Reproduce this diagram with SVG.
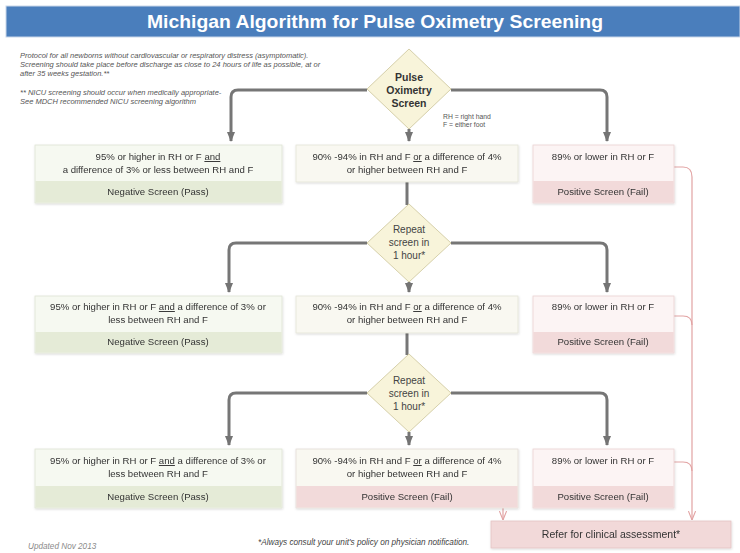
<svg xmlns="http://www.w3.org/2000/svg" width="740" height="553" viewBox="0 0 740 553">
<defs>
<marker id="ag" viewBox="0 0 10 8" refX="9" refY="4" markerWidth="10" markerHeight="8" markerUnits="userSpaceOnUse" orient="auto">
<path d="M0,0 L10,4 L0,8 Z" fill="#747474"/>
</marker>
<marker id="ar" viewBox="0 0 10 8" refX="10" refY="4" markerWidth="9" markerHeight="8" markerUnits="userSpaceOnUse" orient="auto">
<path d="M0,0 L10,4 L0,8" fill="none" stroke="#e2a3a3" stroke-width="1.2"/>
</marker>
<filter id="sh" x="-5%" y="-5%" width="110%" height="120%">
<feDropShadow dx="0.5" dy="1" stdDeviation="0.8" flood-color="#000" flood-opacity="0.15"/>
</filter>
</defs>
<style>
.t{font-family:"Liberation Sans",Arial,sans-serif;font-size:9.6px;fill:#333;text-anchor:middle}
.note{font-family:"Liberation Sans",Arial,sans-serif;font-size:7.5px;font-style:italic;fill:#555}
.dt{font-family:"Liberation Sans",Arial,sans-serif;font-size:10px;fill:#444;text-anchor:middle}
.dtb{font-family:"Liberation Sans",Arial,sans-serif;font-size:10.5px;font-weight:bold;fill:#333;text-anchor:middle}
.gl{fill:none;stroke:#767676;stroke-width:3}
.rl{fill:none;stroke:#e2a3a3;stroke-width:1.2}
.gtop{fill:#f6f9f1;stroke:#dfe4d4;stroke-width:0.8}
.gbot{fill:#e5ebd7}
.ctop{fill:#f9f8f1;stroke:#e4e3d8;stroke-width:0.8}
.ptop{fill:#fcf4f4;stroke:#ead3d3;stroke-width:0.8}
.pbot{fill:#f2dada}
.dia{fill:#f8f4da;stroke:#d6d0aa;stroke-width:1}
.u{text-decoration:underline}
</style>
<rect x="0" y="0" width="740" height="553" fill="#ffffff"/>
<g id="title">
<rect x="6" y="6" width="734" height="31" fill="#4a7ebc" stroke="#c9d7ea" stroke-width="1"/>
<text x="375" y="28" font-family="'Liberation Sans',Arial,sans-serif" font-size="19" font-weight="bold" fill="#ffffff" text-anchor="middle" textLength="456" lengthAdjust="spacingAndGlyphs">Michigan Algorithm for Pulse Oximetry Screening</text>
</g>
<g id="notes">
<text class="note" x="20" y="58">Protocol for all newborns without cardiovascular or respiratory distress (asymptomatic).</text>
<text class="note" x="20" y="67">Screening should take place before discharge as close to 24 hours of life as possible, at or</text>
<text class="note" x="20" y="76">after 35 weeks gestation.**</text>
<text class="note" x="20" y="95">** NICU screening should occur when medically appropriate-</text>
<text class="note" x="20" y="104">See MDCH recommended NICU screening algorithm</text>
<text x="443" y="119" font-family="'Liberation Sans',Arial,sans-serif" font-size="6.8" fill="#555">RH = right hand</text>
<text x="443" y="127" font-family="'Liberation Sans',Arial,sans-serif" font-size="6.8" fill="#555">F = either foot</text>
</g>
<g id="connectors">
<path class="gl" d="M367,90 H238 Q231,90 231,97 V141" marker-end="url(#ag)"/>
<path class="gl" d="M451,90 H600 Q607,90 607,97 V141" marker-end="url(#ag)"/>
<path class="gl" d="M409,129 V141" marker-end="url(#ag)"/>
<path class="gl" d="M407,182 V205"/>
<path class="gl" d="M367,243 H236 Q229,243 229,250 V292" marker-end="url(#ag)"/>
<path class="gl" d="M451,243 H600 Q607,243 607,250 V292" marker-end="url(#ag)"/>
<path class="gl" d="M409,282 V292" marker-end="url(#ag)"/>
<path class="gl" d="M407,333 V355"/>
<path class="gl" d="M367,393 H236 Q229,393 229,400 V445" marker-end="url(#ag)"/>
<path class="gl" d="M451,393 H600 Q607,393 607,400 V445" marker-end="url(#ag)"/>
<path class="gl" d="M409,432 V445" marker-end="url(#ag)"/>
<path class="rl" d="M674,167 H683 Q692,167 692,177 V520" marker-end="url(#ar)"/>
<path class="rl" d="M674,316 H683 Q692,316 692,325"/>
<path class="rl" d="M674,462 H683 Q692,462 692,471"/>
<path class="rl" d="M503,508 V520" marker-end="url(#ar)"/>
</g>
<g id="d1">
<polygon class="dia" points="409,49 451,89 409,129 367,89"/>
<text class="dtb" x="409" y="81">Pulse</text>
<text class="dtb" x="409" y="94">Oximetry</text>
<text class="dtb" x="409" y="107">Screen</text>
</g>
<g id="r1a" filter="url(#sh)">
<rect class="gtop" x="35" y="145" width="247" height="58"/>
<rect class="gbot" x="35.4" y="181" width="246.2" height="21.6"/>
<text class="t" x="158" y="160">95% or higher in RH or F <tspan class="u">and</tspan></text>
<text class="t" x="158" y="173">a difference of 3% or less between RH and F</text>
<text class="t" x="158" y="195">Negative Screen (Pass)</text>
</g>
<g id="r1b" filter="url(#sh)">
<rect class="ctop" x="296" y="145" width="222" height="37"/>
<text class="t" x="407" y="160">90% -94% in RH and F <tspan class="u">or</tspan> a difference of 4%</text>
<text class="t" x="407" y="173">or higher between RH and F</text>
</g>
<g id="r1c" filter="url(#sh)">
<rect class="ptop" x="533" y="145" width="141" height="58"/>
<rect class="pbot" x="533.4" y="181" width="140.2" height="21.6"/>
<text class="t" x="603" y="160">89% or lower in RH or F</text>
<text class="t" x="603" y="195">Positive Screen (Fail)</text>
</g>
<g id="d2">
<polygon class="dia" points="409,204 451,243 409,282 367,243"/>
<text class="dt" x="409" y="233">Repeat</text>
<text class="dt" x="409" y="246">screen in</text>
<text class="dt" x="409" y="259">1 hour*</text>
</g>
<g id="r2a" filter="url(#sh)">
<rect class="gtop" x="35" y="296" width="247" height="57"/>
<rect class="gbot" x="35.4" y="332" width="246.2" height="20.6"/>
<text class="t" x="158" y="310">95% or higher in RH or F <tspan class="u">and</tspan> a difference of 3% or</text>
<text class="t" x="158" y="323">less between RH and F</text>
<text class="t" x="158" y="345">Negative Screen (Pass)</text>
</g>
<g id="r2b" filter="url(#sh)">
<rect class="ctop" x="296" y="296" width="222" height="37"/>
<text class="t" x="407" y="310">90% -94% in RH and F <tspan class="u">or</tspan> a difference of 4%</text>
<text class="t" x="407" y="323">or higher between RH and F</text>
</g>
<g id="r2c" filter="url(#sh)">
<rect class="ptop" x="533" y="296" width="141" height="57"/>
<rect class="pbot" x="533.4" y="332" width="140.2" height="20.6"/>
<text class="t" x="603" y="310">89% or lower in RH or F</text>
<text class="t" x="603" y="345">Positive Screen (Fail)</text>
</g>
<g id="d3">
<polygon class="dia" points="409,354 451,393 409,432 367,393"/>
<text class="dt" x="409" y="384">Repeat</text>
<text class="dt" x="409" y="397">screen in</text>
<text class="dt" x="409" y="410">1 hour*</text>
</g>
<g id="r3a" filter="url(#sh)">
<rect class="gtop" x="35" y="449" width="247" height="59"/>
<rect class="gbot" x="35.4" y="486" width="246.2" height="21.6"/>
<text class="t" x="158" y="464">95% or higher in RH or F <tspan class="u">and</tspan> a difference of 3% or</text>
<text class="t" x="158" y="477">less between RH and F</text>
<text class="t" x="158" y="500">Negative Screen (Pass)</text>
</g>
<g id="r3b" filter="url(#sh)">
<rect class="ptop" x="296" y="449" width="222" height="59" style="fill:#f9f8f1;stroke:#e4dcd8"/>
<rect class="pbot" x="296.4" y="486" width="221.2" height="21.6"/>
<text class="t" x="407" y="464">90% -94% in RH and F <tspan class="u">or</tspan> a difference of 4%</text>
<text class="t" x="407" y="477">or higher between RH and F</text>
<text class="t" x="407" y="500">Positive Screen (Fail)</text>
</g>
<g id="r3c" filter="url(#sh)">
<rect class="ptop" x="533" y="449" width="141" height="59"/>
<rect class="pbot" x="533.4" y="486" width="140.2" height="21.6"/>
<text class="t" x="603" y="464">89% or lower in RH or F</text>
<text class="t" x="603" y="500">Positive Screen (Fail)</text>
</g>
<g id="refer" filter="url(#sh)">
<rect x="491" y="521" width="240" height="27" fill="#f2d9d9" stroke="#e4c4c4" stroke-width="0.8"/>
<text x="611" y="538" font-family="'Liberation Sans',Arial,sans-serif" font-size="10.5" fill="#333" text-anchor="middle">Refer for clinical assessment*</text>
</g>
<g id="footer">
<text x="28" y="549" font-family="'Liberation Sans',Arial,sans-serif" font-size="8.2" font-style="italic" fill="#8a8a8a">Updated Nov 2013</text>
<text x="258" y="545" font-family="'Liberation Sans',Arial,sans-serif" font-size="8.2" font-style="italic" fill="#444">*Always consult your unit's policy on physician notification.</text>
</g>
</svg>
